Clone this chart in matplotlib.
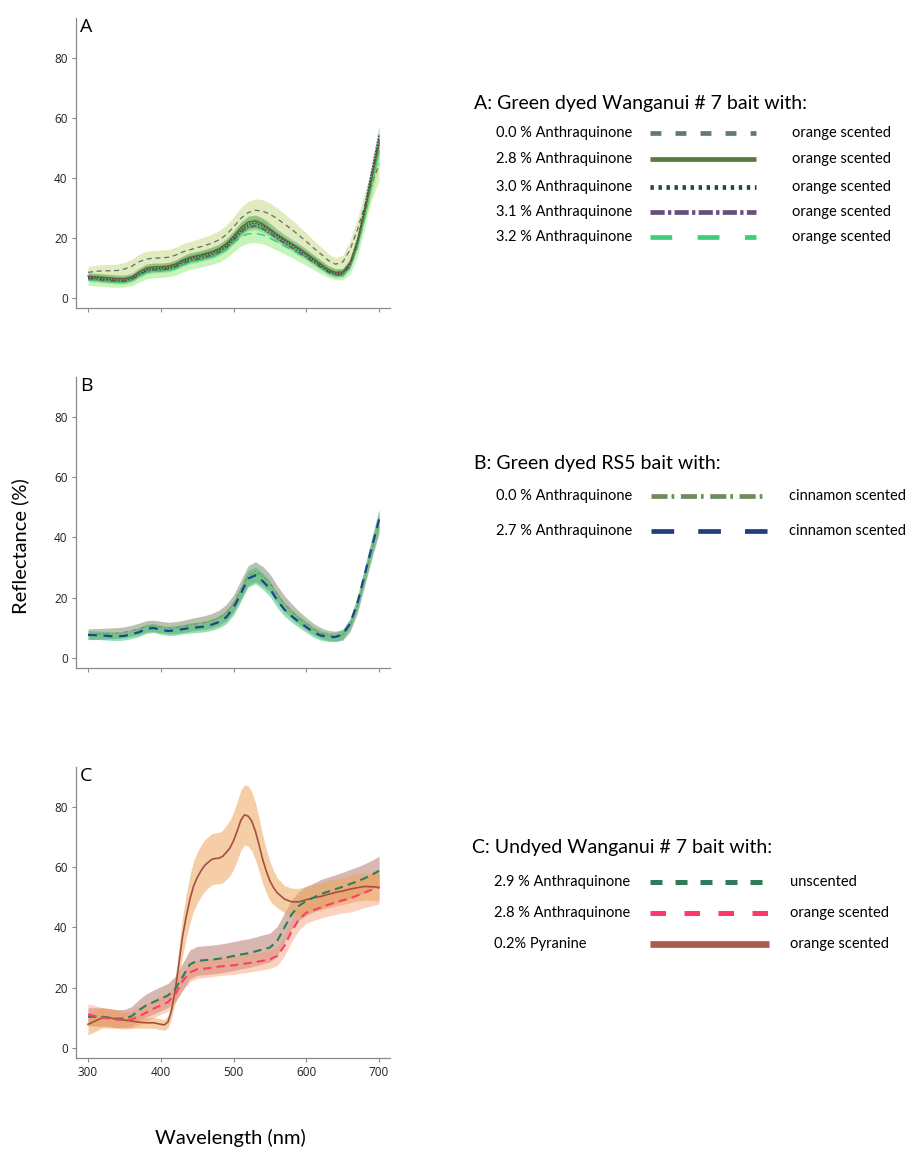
import numpy as np
import matplotlib.pyplot as plt
from matplotlib.lines import Line2D

plt.rcParams['font.family'] = 'Open Sans'

#%% Data (reflectance %, 10 nm steps)
wavelength = np.arange(300, 701, 10)

# Panel A: green dyed Wanganui #7, orange scented
a_00 = [8.5, 8.8, 9.0, 9.0, 9.1, 9.6, 10.5, 12.0, 12.9, 13.2, 13.3, 13.5, 14.2, 15.3, 16.0, 16.7, 17.4, 18.2, 19.3, 21.0,
        23.6, 26.5, 28.4, 29.2, 28.9, 27.9, 26.4, 24.6, 22.8, 20.8, 18.8, 16.6, 14.6, 12.5, 11.2, 11.9, 16.0, 22.5, 30.5, 38.0, 44.5]
a_28 = [7.2, 7.0, 6.8, 6.6, 6.4, 6.4, 7.0, 8.6, 9.9, 10.3, 10.3, 10.5, 11.2, 12.5, 13.5, 14.0, 14.6, 15.3, 16.3, 18.0,
        20.5, 23.3, 25.2, 25.6, 24.6, 22.9, 21.1, 19.5, 18.0, 16.5, 14.8, 13.0, 11.2, 9.5, 8.5, 8.6, 11.5, 18.5, 28.5, 40.0, 51.5]
a_30 = [6.8, 6.6, 6.3, 6.1, 5.9, 5.9, 6.5, 8.0, 9.3, 9.7, 9.8, 10.0, 10.7, 12.0, 13.0, 13.5, 14.1, 14.8, 15.8, 17.4,
        19.8, 22.5, 24.4, 24.9, 24.0, 22.4, 20.6, 19.0, 17.5, 16.0, 14.3, 12.5, 10.7, 9.0, 8.0, 8.2, 11.5, 19.0, 30.0, 42.5, 54.5]
a_31 = [6.4, 6.2, 5.9, 5.7, 5.5, 5.5, 6.1, 7.6, 8.9, 9.3, 9.4, 9.6, 10.3, 11.5, 12.4, 12.9, 13.5, 14.2, 15.2, 16.8,
        19.2, 21.8, 23.6, 24.0, 23.1, 21.5, 19.8, 18.2, 16.7, 15.2, 13.6, 11.9, 10.2, 8.6, 7.6, 7.7, 10.8, 18.0, 28.8, 41.0, 52.8]
a_32 = [6.0, 5.8, 5.6, 5.4, 5.3, 5.4, 5.9, 7.2, 8.4, 8.8, 8.9, 9.1, 9.8, 10.9, 11.8, 12.3, 12.9, 13.6, 14.5, 16.0,
        18.2, 20.3, 21.3, 21.5, 21.0, 19.9, 18.6, 17.3, 16.0, 14.6, 13.2, 11.7, 10.2, 8.8, 7.9, 7.9, 10.2, 16.5, 26.5, 38.0, 49.0]
sd_a00 = [2.0, 2.0, 2.1, 2.1, 2.1, 2.2, 2.3, 2.5, 2.6, 2.6, 2.6, 2.6, 2.6, 2.7, 2.7, 2.8, 2.9, 3.0, 3.1, 3.2,
          3.4, 3.6, 3.7, 3.8, 3.8, 3.7, 3.6, 3.4, 3.2, 3.0, 2.8, 2.6, 2.4, 2.2, 2.1, 2.3, 3.0, 3.8, 4.5, 5.0, 5.5]
sd_a28 = [1.2, 1.2, 1.2, 1.2, 1.2, 1.2, 1.2, 1.3, 1.3, 1.3, 1.3, 1.3, 1.4, 1.4, 1.5, 1.5, 1.5, 1.6, 1.6, 1.7,
          1.8, 1.9, 2.0, 2.0, 2.0, 1.9, 1.8, 1.7, 1.6, 1.5, 1.5, 1.4, 1.3, 1.2, 1.1, 1.2, 1.5, 2.0, 2.5, 3.0, 3.5]
sd_a30 = [1.0, 1.0, 1.0, 1.0, 1.0, 1.0, 1.0, 1.1, 1.1, 1.1, 1.1, 1.1, 1.2, 1.2, 1.2, 1.2, 1.3, 1.3, 1.3, 1.4,
          1.5, 1.6, 1.6, 1.6, 1.6, 1.5, 1.5, 1.4, 1.3, 1.3, 1.2, 1.2, 1.1, 1.0, 1.0, 1.0, 1.3, 1.8, 2.2, 2.6, 3.0]
sd_a31 = [0.9, 0.9, 0.9, 0.9, 0.9, 0.9, 0.9, 1.0, 1.0, 1.0, 1.0, 1.0, 1.0, 1.1, 1.1, 1.1, 1.1, 1.2, 1.2, 1.3,
          1.3, 1.4, 1.4, 1.4, 1.4, 1.4, 1.3, 1.3, 1.2, 1.2, 1.1, 1.1, 1.0, 1.0, 0.9, 0.9, 1.2, 1.6, 2.0, 2.4, 2.8]
sd_a32 = [1.8, 1.8, 1.8, 1.8, 1.8, 1.8, 1.9, 2.0, 2.1, 2.1, 2.1, 2.1, 2.2, 2.3, 2.3, 2.4, 2.4, 2.5, 2.6, 2.7,
          2.9, 3.0, 3.1, 3.1, 3.0, 2.9, 2.8, 2.7, 2.6, 2.5, 2.4, 2.3, 2.2, 2.0, 1.9, 1.9, 2.3, 3.0, 3.5, 4.0, 4.5]

# Panel B: green dyed RS5, cinnamon scented
b_00 = [7.8, 7.9, 8.0, 8.1, 8.2, 8.5, 9.0, 9.6, 10.4, 10.6, 10.2, 9.9, 10.0, 10.4, 10.9, 11.3, 11.7, 12.3, 13.3, 15.0,
        18.0, 22.6, 27.3, 28.6, 27.2, 24.8, 21.2, 18.0, 15.5, 13.2, 11.3, 9.5, 8.2, 7.4, 7.1, 7.6, 10.6, 17.0, 26.5, 36.0, 45.0]
b_27 = [7.6, 7.5, 7.4, 7.2, 7.1, 7.3, 7.8, 8.5, 9.6, 9.9, 9.3, 8.9, 9.1, 9.5, 9.9, 10.1, 10.4, 11.0, 11.9, 13.5,
        16.6, 21.3, 26.3, 27.4, 25.5, 23.0, 19.1, 16.0, 13.8, 11.9, 10.2, 8.5, 7.4, 6.9, 6.9, 7.8, 11.3, 18.0, 27.4, 36.8, 46.0]
sd_b00 = [1.8, 1.8, 1.8, 1.8, 1.8, 1.8, 1.8, 1.9, 1.9, 1.9, 1.9, 1.9, 2.0, 2.0, 2.1, 2.2, 2.3, 2.4, 2.5, 2.7,
          2.9, 3.1, 3.3, 3.3, 3.2, 3.0, 2.8, 2.6, 2.4, 2.2, 2.0, 1.9, 1.8, 1.7, 1.7, 1.8, 2.0, 2.4, 2.8, 3.2, 3.6]
sd_b27 = [1.4, 1.4, 1.4, 1.4, 1.4, 1.4, 1.4, 1.5, 1.5, 1.5, 1.5, 1.5, 1.6, 1.6, 1.7, 1.7, 1.8, 1.9, 2.0, 2.2,
          2.4, 2.6, 2.8, 2.8, 2.7, 2.6, 2.4, 2.2, 2.0, 1.9, 1.8, 1.7, 1.6, 1.5, 1.5, 1.6, 1.9, 2.3, 2.7, 3.1, 3.5]

# Panel C: undyed Wanganui #7
c_29 = [10.3, 10.3, 10.3, 10.0, 9.7, 9.7, 10.5, 12.5, 14.1, 15.2, 16.3, 17.4, 19.6, 23.6, 27.7, 28.9, 29.1, 29.3, 29.6, 30.0,
        30.5, 31.0, 31.4, 32.0, 32.7, 33.3, 35.5, 40.0, 44.4, 47.2, 48.8, 49.9, 51.1, 51.9, 52.7, 53.5, 54.4, 55.3, 56.3, 57.5, 58.8]
c_28 = [11.1, 10.5, 10.0, 9.7, 9.4, 9.2, 9.4, 10.5, 11.7, 13.0, 14.1, 15.2, 17.8, 22.2, 25.0, 26.1, 26.3, 26.6, 27.0, 27.2,
        27.4, 27.8, 28.1, 28.5, 28.9, 29.4, 30.5, 33.9, 38.8, 42.7, 44.9, 45.8, 46.6, 47.5, 48.3, 49.0, 49.6, 50.6, 51.6, 52.5, 53.3]
sd_c29 = [3.0, 3.0, 3.0, 3.0, 3.0, 3.0, 3.2, 3.5, 3.8, 4.0, 4.0, 4.0, 4.2, 4.5, 4.8, 4.8, 4.8, 4.8, 4.8, 4.8,
          4.8, 4.8, 4.8, 4.8, 4.8, 4.8, 4.8, 4.8, 4.8, 4.8, 4.8, 4.8, 4.8, 4.8, 4.8, 4.8, 4.8, 4.8, 4.8, 4.8, 4.8]
sd_c28 = [3.5, 3.4, 3.3, 3.2, 3.0, 3.0, 3.0, 3.0, 3.0, 3.0, 3.0, 3.0, 3.0, 3.0, 3.0, 3.0, 3.0, 3.0, 3.0, 3.0,
          3.0, 3.0, 3.0, 3.0, 3.0, 3.0, 3.2, 3.4, 3.5, 3.5, 3.5, 3.5, 3.5, 3.7, 4.0, 4.2, 4.5, 4.8, 5.0, 5.3, 5.5]

# Pyranine has a sharper shape, so it is read every 5 nm between 400 and 560 nm
wl_pyr = [300, 310, 320, 330, 340, 350, 360, 370, 380, 390, 400,
          405, 410, 415, 420, 425, 430, 435, 440, 445, 450, 455, 460, 465, 470, 475, 480,
          485, 490, 495, 500, 505, 510, 515, 520, 525, 530, 535, 540, 545, 550, 555, 560,
          570, 580, 590, 600, 610, 620, 630, 640, 650, 660, 670, 680, 690, 700]
c_pyr = [7.8, 8.9, 10.0, 10.0, 9.4, 9.2, 8.9, 8.5, 8.3, 8.3, 7.8,
         7.6, 8.6, 12.7, 19.4, 28.2, 37.1, 43.7, 49.3, 53.7, 56.5, 58.7, 60.5, 61.6, 62.6, 62.9, 63.0,
         63.6, 64.9, 66.4, 68.8, 72.0, 75.6, 77.4, 77.0, 75.3, 72.0, 67.5, 62.6, 58.7, 55.4, 53.2, 51.5,
         49.4, 48.5, 48.5, 49.2, 49.8, 50.3, 51.0, 51.6, 52.1, 52.7, 53.2, 53.6, 53.5, 53.3]
sd_pyr = [3.5, 3.5, 3.2, 3.0, 2.8, 2.5, 2.3, 2.0, 1.8, 1.8, 1.8,
          1.8, 2.0, 2.8, 4.0, 5.2, 6.5, 7.3, 8.0, 8.3, 8.5, 8.5, 8.5, 8.5, 8.5, 8.5, 8.5,
          8.7, 9.0, 9.2, 9.5, 9.8, 10.0, 10.0, 10.0, 9.8, 9.5, 8.8, 8.0, 7.2, 6.5, 5.7, 5.0,
          4.5, 4.5, 4.5, 4.5, 4.5, 4.5, 4.5, 4.5, 4.5, 4.5, 4.5, 4.5, 4.5, 4.5]

# Legend texts
titles = ["A: Green dyed Wanganui # 7 bait with:",
          "B: Green dyed RS5 bait with:",
          "C: Undyed Wanganui # 7 bait with:"]
labels_a = ["0.0 % Anthraquinone", "2.8 % Anthraquinone", "3.0 % Anthraquinone",
            "3.1 % Anthraquinone", "3.2 % Anthraquinone"]
labels_b = ["0.0 % Anthraquinone", "2.7 % Anthraquinone"]
labels_c = ["2.9 % Anthraquinone", "2.8 % Anthraquinone", "0.2% Pyranine"]
scents_a = ["orange scented"] * 5
scents_b = ["cinnamon scented"] * 2
scents_c = ["unscented", "orange scented", "orange scented"]


#%% Figure
W, H = 910, 1149
fig = plt.figure(figsize=(W / 100, H / 100), dpi=100)


def fx(x):
    return x / W


def fy(y):
    return 1 - y / H


def make_axes(top, bottom, letter, xlabels=False):
    ax = fig.add_axes([fx(76), fy(bottom), fx(390) - fx(76), fy(top) - fy(bottom)])
    ax.set_xlim(283.5, 715)
    ax.set_ylim(-3.4, 93.3)
    ax.set_xticks([300, 400, 500, 600, 700])
    ax.set_yticks([0, 20, 40, 60, 80])
    for s in ['top', 'right']:
        ax.spines[s].set_visible(False)
    for s in ['left', 'bottom']:
        ax.spines[s].set_color('#8a8a8a')
        ax.spines[s].set_linewidth(0.9)
    ax.tick_params(length=3, width=0.8, color='#8a8a8a', labelsize=8.5,
                   labelcolor='#222222', pad=3)
    if not xlabels:
        ax.set_xticklabels([])
    ax.text(0.012, 1.0, letter, transform=ax.transAxes, ha='left', va='top',
            fontsize=14, color='black')
    return ax


def band(ax, x, y, sd, color, alpha):
    y = np.asarray(y)
    sd = np.asarray(sd)
    ax.fill_between(x, y - sd, y + sd, color=color, alpha=alpha, lw=0)


# Panel A
axA = make_axes(18, 308, 'A')
band(axA, wavelength, a_00, sd_a00, '#c9dc8a', 0.55)
band(axA, wavelength, a_32, sd_a32, '#8cec78', 0.5)
band(axA, wavelength, a_31, sd_a31, '#6fbf6a', 0.35)
band(axA, wavelength, a_30, sd_a30, '#4fae5a', 0.4)
band(axA, wavelength, a_28, sd_a28, '#3f9f45', 0.5)
axA.plot(wavelength, a_00, color='#5d6f72', lw=0.9, ls=(0, (4, 3)))
axA.plot(wavelength, a_32, color='#2fd07a', lw=1.0, ls=(0, (6, 4)))
axA.plot(wavelength, a_31, color='#6a4a80', lw=1.0, ls=(0, (4, 1.5, 1, 1.5)))
axA.plot(wavelength, a_30, color='#1f4a38', lw=1.0, ls=(0, (1, 1.2)))
axA.plot(wavelength, a_28, color='#6b5a3a', lw=1.0)

# Panel B
axB = make_axes(377, 668, 'B')
band(axB, wavelength, b_00, sd_b00, '#8e9880', 0.6)
band(axB, wavelength, b_27, sd_b27, '#2fc46a', 0.5)
axB.plot(wavelength, b_00, color='#8a8a60', lw=0.8, ls=(0, (4, 1.5, 1, 1.5)))
axB.plot(wavelength, b_27, color='#1f4590', lw=1.6, ls=(0, (4, 3)))

# Panel C
axC = make_axes(767, 1058, 'C', xlabels=True)
band(axC, wavelength, c_29, sd_c29, '#a8604e', 0.45)
band(axC, wavelength, c_28, sd_c28, '#f79a72', 0.45)
band(axC, wl_pyr, c_pyr, sd_pyr, '#eea55e', 0.55)
axC.plot(wl_pyr, c_pyr, color='#a5503f', lw=1.2)
axC.plot(wavelength, c_29, color='#2e7d5b', lw=1.5, ls=(0, (4, 2.5)))
axC.plot(wavelength, c_28, color='#ff3b6e', lw=1.5, ls=(0, (4, 2.5)))

# Axis labels
fig.text(fx(20), fy(546), 'Reflectance (%)', rotation=90, ha='center', va='center',
         fontsize=14.5, family='Lato')
fig.text(fx(230), fy(1138), 'Wavelength (nm)', ha='center', va='center',
         fontsize=14.5, family='Lato')


#%% Legends
def legend_row(y, label, color, ls, lw, note, x0=650, x1=758, note_x=792, label_x=496):
    fig.text(fx(label_x), fy(y), label, ha='left', va='center', fontsize=10.5, family='Lato')
    fig.add_artist(Line2D([fx(x0), fx(x1)], [fy(y), fy(y)], transform=fig.transFigure,
                          color=color, ls=ls, lw=lw, solid_capstyle='butt',
                          dash_capstyle='butt'))
    fig.text(fx(note_x), fy(y), note, ha='left', va='center', fontsize=10.5, family='Lato')


fig.text(fx(474), fy(104), titles[0], ha='left', va='center', fontsize=14, family='Lato')
styles_a = [('#62797c', (0, (2.3, 3.0))), ('#587a3e', '-'), ('#1f4a38', (0, (0.7, 1.0))),
            ('#6a4f7a', (0, (3.0, 0.7, 0.7, 0.7))), ('#3ccf7a', (0, (4.6, 5.4)))]
rows_a = [133, 159, 187, 212, 237]
for y, lab, (c, ls), sc in zip(rows_a, labels_a, styles_a, scents_a):
    legend_row(y, lab, c, ls, 3.4, sc, x1=756)

fig.text(fx(474), fy(463), titles[1], ha='left', va='center', fontsize=14, family='Lato')
styles_b = [('#6d8c5e', (0, (3.4, 0.85, 0.57, 1.4))), ('#213f7c', (0, (4.8, 5.1)))]
rows_b = [496, 531]
for y, lab, (c, ls), sc in zip(rows_b, labels_b, styles_b, scents_b):
    legend_row(y, lab, c, ls, 3.4, sc, x0=651, x1=767, note_x=789)

fig.text(fx(472), fy(848), titles[2], ha='left', va='center', fontsize=14, family='Lato')
styles_c = [('#2f7a58', (0, (2.4, 2.6)), 3.6), ('#ff3a6a', (0, (3.1, 3.7)), 3.6),
            ('#ad5a4a', '-', 4.8)]
rows_c = [882, 913, 944]
for y, lab, (c, ls, lw), sc in zip(rows_c, labels_c, styles_c, scents_c):
    legend_row(y, lab, c, ls, lw, sc, x0=650, x1=769, note_x=790, label_x=494)

plt.savefig('out.png', dpi=100)
